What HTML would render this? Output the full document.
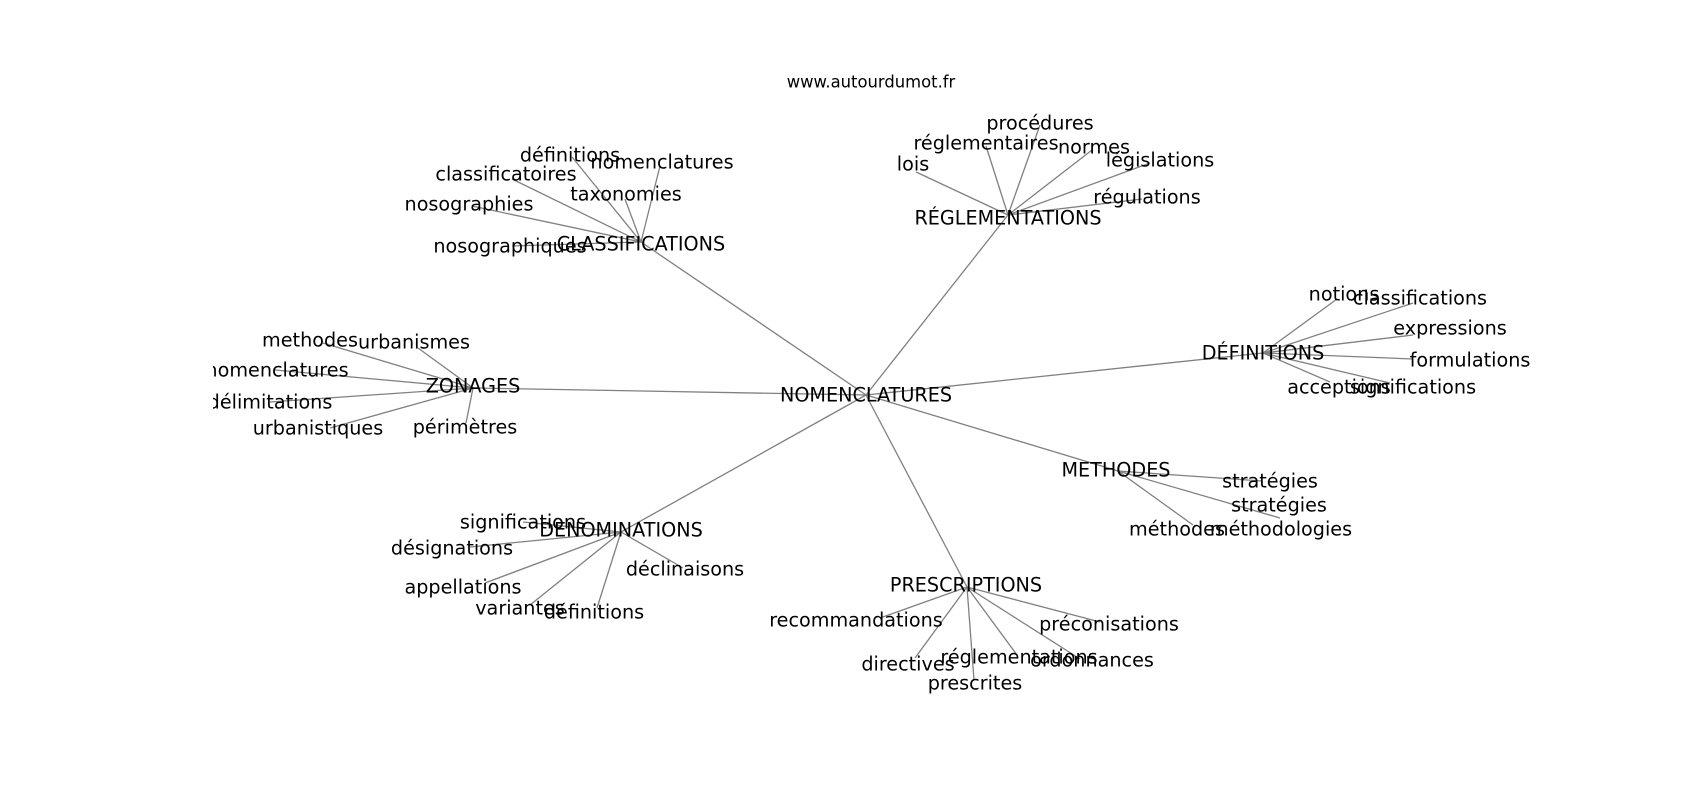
<!DOCTYPE html>
<html><head><meta charset="utf-8"><style>
html,body{margin:0;padding:0;background:#fff;}
svg{display:block;}
text{font-family:"DejaVu Sans","Liberation Sans",sans-serif;font-size:19.2px;fill:#000;text-anchor:middle;dominant-baseline:central;}
line{stroke:#808080;stroke-width:1.3;}
</style></head><body>
<svg width="1700" height="800" viewBox="0 0 1700 800" xmlns="http://www.w3.org/2000/svg">
<defs><clipPath id="c"><rect x="213" y="0" width="1400" height="800"/></clipPath></defs>
<text x="871" y="82" style="font-size:16.4px">www.autourdumot.fr</text>
<g clip-path="url(#c)">
<g>
<line x1="866" y1="395" x2="641" y2="242"/>
<line x1="866" y1="395" x2="1008" y2="215"/>
<line x1="866" y1="395" x2="1263" y2="353"/>
<line x1="866" y1="395" x2="473" y2="388"/>
<line x1="866" y1="395" x2="1118" y2="471"/>
<line x1="866" y1="395" x2="621" y2="532"/>
<line x1="866" y1="395" x2="967" y2="587"/>
<line x1="641" y1="242" x2="572" y2="157"/>
<line x1="641" y1="242" x2="660" y2="166"/>
<line x1="641" y1="242" x2="512" y2="179"/>
<line x1="641" y1="242" x2="625" y2="199"/>
<line x1="641" y1="242" x2="472" y2="206"/>
<line x1="641" y1="242" x2="512" y2="246"/>
<line x1="1008" y1="215" x2="1040" y2="125"/>
<line x1="1008" y1="215" x2="986" y2="146"/>
<line x1="1008" y1="215" x2="1092" y2="150"/>
<line x1="1008" y1="215" x2="916" y2="172"/>
<line x1="1008" y1="215" x2="1150" y2="163"/>
<line x1="1008" y1="215" x2="1142" y2="199"/>
<line x1="1263" y1="353" x2="1337" y2="299"/>
<line x1="1263" y1="353" x2="1413" y2="303"/>
<line x1="1263" y1="353" x2="1413" y2="335"/>
<line x1="1263" y1="353" x2="1413" y2="359"/>
<line x1="1263" y1="353" x2="1390" y2="383"/>
<line x1="1263" y1="353" x2="1330" y2="382"/>
<line x1="473" y1="388" x2="323" y2="343"/>
<line x1="473" y1="388" x2="418" y2="348"/>
<line x1="473" y1="388" x2="275" y2="370"/>
<line x1="473" y1="388" x2="270" y2="402"/>
<line x1="473" y1="388" x2="330" y2="428"/>
<line x1="473" y1="388" x2="466" y2="423"/>
<line x1="1118" y1="471" x2="1262" y2="481"/>
<line x1="1118" y1="471" x2="1280" y2="518"/>
<line x1="1118" y1="471" x2="1193" y2="525"/>
<line x1="621" y1="532" x2="523" y2="522"/>
<line x1="621" y1="532" x2="470" y2="547"/>
<line x1="621" y1="532" x2="485" y2="583"/>
<line x1="621" y1="532" x2="530" y2="605"/>
<line x1="621" y1="532" x2="597" y2="608"/>
<line x1="621" y1="532" x2="683" y2="568"/>
<line x1="967" y1="587" x2="880" y2="618"/>
<line x1="967" y1="587" x2="1100" y2="622"/>
<line x1="967" y1="587" x2="915" y2="658"/>
<line x1="967" y1="587" x2="1017" y2="655"/>
<line x1="967" y1="587" x2="1080" y2="659"/>
<line x1="967" y1="587" x2="974" y2="680"/>
</g>
<text x="866" y="395">NOMENCLATURES</text>
<text x="641" y="244">CLASSIFICATIONS</text>
<text x="570" y="155">définitions</text>
<text x="662" y="162">nomenclatures</text>
<text x="506" y="174">classificatoires</text>
<text x="626" y="194">taxonomies</text>
<text x="469" y="204">nosographies</text>
<text x="510" y="246">nosographiques</text>

<text x="1008" y="218">RÉGLEMENTATIONS</text>
<text x="1040" y="123">procédures</text>
<text x="986" y="143">réglementaires</text>
<text x="1094" y="147">normes</text>
<text x="913" y="164">lois</text>
<text x="1160" y="160">législations</text>
<text x="1147" y="197">régulations</text>

<text x="1263" y="353">DÉFINITIONS</text>
<text x="1344" y="294">notions</text>
<text x="1420" y="298">classifications</text>
<text x="1450" y="328">expressions</text>
<text x="1470" y="360">formulations</text>
<text x="1339" y="387">acceptions</text>
<text x="1413" y="387">significations</text>

<text x="473" y="386">ZONAGES</text>
<text x="310" y="340">methodes</text>
<text x="414" y="342">urbanismes</text>
<text x="277" y="370">nomenclatures</text>
<text x="270" y="402">délimitations</text>
<text x="318" y="428">urbanistiques</text>
<text x="465" y="427">périmètres</text>

<text x="1116" y="470">METHODES</text>
<text x="1270" y="481">stratégies</text>
<text x="1279" y="505">stratégies</text>
<text x="1177" y="529">méthodes</text>
<text x="1281" y="529">méthodologies</text>

<text x="621" y="530">DENOMINATIONS</text>
<text x="523" y="522">significations</text>
<text x="452" y="548">désignations</text>
<text x="463" y="587">appellations</text>
<text x="520" y="608">variantes</text>
<text x="594" y="612">définitions</text>
<text x="685" y="569">déclinaisons</text>

<text x="966" y="585">PRESCRIPTIONS</text>
<text x="856" y="620">recommandations</text>
<text x="1109" y="624">préconisations</text>
<text x="908" y="664">directives</text>
<text x="1019" y="657">réglementations</text>
<text x="1092" y="660">ordonnances</text>
<text x="975" y="683">prescrites</text>
</g>
</svg>
</body></html>
